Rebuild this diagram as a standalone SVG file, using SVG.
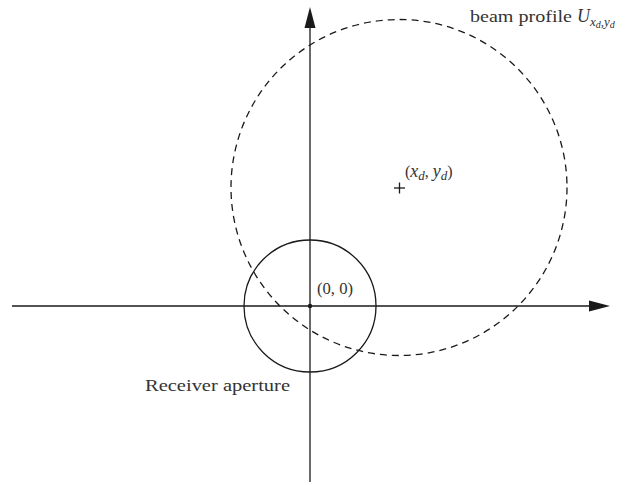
<svg xmlns="http://www.w3.org/2000/svg" width="633" height="485" viewBox="0 0 633 485">
<style>
.ln{stroke:#1a1a1a;stroke-width:1.3;fill:none}
.ds{stroke:#1a1a1a;stroke-width:1.3;fill:none;stroke-dasharray:7 5}
.t{font-family:"Liberation Serif",serif;font-size:16px;fill:#333}
.m{font-family:"Liberation Serif",serif;font-style:italic;fill:#333}
.ah{fill:#1a1a1a}
</style>
<rect width="633" height="485" fill="#fff"/>
<g id="connectors">
<line class="ln" x1="12" y1="306" x2="596" y2="306"/>
<polygon class="ah" points="610,306 589,300.5 589,311.5"/>
<line class="ln" x1="310" y1="482" x2="310" y2="22"/>
<polygon class="ah" points="310,7 304.5,28 315.5,28"/>
</g>
<g id="beam">
<circle class="ds" cx="399" cy="187.5" r="168"/>
<line class="ln" x1="394" y1="188" x2="405" y2="188"/>
<line class="ln" x1="399.5" y1="182.5" x2="399.5" y2="193.5"/>
<text class="t" x="405" y="177" font-size="17.5">(<tspan class="m" font-size="18">x</tspan><tspan class="m" font-size="13" dy="3">d</tspan><tspan dy="-3">, </tspan><tspan class="m" font-size="18">y</tspan><tspan class="m" font-size="13" dy="3">d</tspan><tspan dy="-3">)</tspan></text>
<text class="t" x="470" y="22" textLength="102" lengthAdjust="spacingAndGlyphs">beam profile</text>
<text class="t" x="577" y="22"><tspan class="m" font-size="18">U</tspan><tspan class="m" font-size="13" dy="4">x</tspan><tspan class="m" font-size="10" dy="2">d</tspan><tspan class="m" font-size="13" dy="-2">,y</tspan><tspan class="m" font-size="10" dy="2">d</tspan></text>
</g>
<g id="aperture">
<circle class="ln" cx="310" cy="306" r="66"/>
<circle class="ah" cx="310" cy="306" r="2.2"/>
<text class="t" x="317" y="294" textLength="36" lengthAdjust="spacingAndGlyphs">(0, 0)</text>
<text class="t" x="145" y="391" textLength="145" lengthAdjust="spacingAndGlyphs">Receiver aperture</text>
</g>
</svg>
